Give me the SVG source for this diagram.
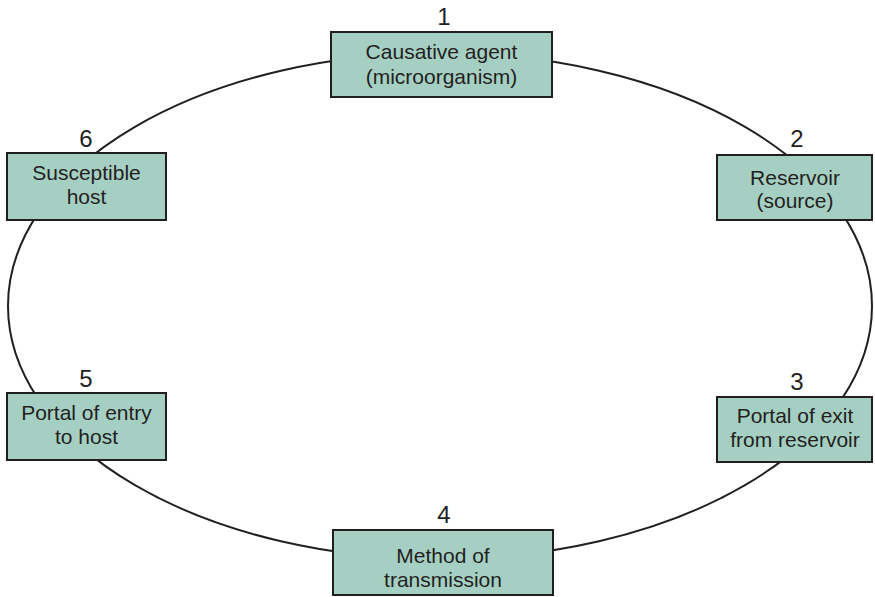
<svg xmlns="http://www.w3.org/2000/svg" width="875" height="597" viewBox="0 0 875 597">
<style>
.box{fill:#a6cfc4;stroke:#231f20;stroke-width:2}
.lbl{font-family:"Liberation Sans",Arial,sans-serif;font-size:21px;fill:#231f20;text-anchor:middle}
.num{font-family:"Liberation Sans",Arial,sans-serif;font-size:24px;fill:#231f20;text-anchor:middle}
.ring{fill:none;stroke:#231f20;stroke-width:2}
</style>
<rect width="875" height="597" fill="#ffffff"/>
<g id="connectors">
<ellipse class="ring" cx="440" cy="306" rx="432" ry="253"/>
</g>
<g id="node1">
<rect class="box" x="331" y="32" width="221" height="65"/>
<text class="num" x="444" y="25">1</text>
<text class="lbl" x="441.5" y="59">Causative agent</text>
<text class="lbl" x="441.5" y="84">(microorganism)</text>
</g>
<g id="node2">
<rect class="box" x="717" y="155" width="155" height="65"/>
<text class="num" x="797" y="147">2</text>
<text class="lbl" x="795" y="185">Reservoir</text>
<text class="lbl" x="795" y="208">(source)</text>
</g>
<g id="node3">
<rect class="box" x="717" y="397" width="155" height="65"/>
<text class="num" x="797" y="390">3</text>
<text class="lbl" x="795" y="423">Portal of exit</text>
<text class="lbl" x="795" y="447">from reservoir</text>
</g>
<g id="node4">
<rect class="box" x="333" y="530" width="220" height="65"/>
<text class="num" x="444" y="523">4</text>
<text class="lbl" x="443" y="563">Method of</text>
<text class="lbl" x="443" y="587">transmission</text>
</g>
<g id="node5">
<rect class="box" x="7" y="393" width="159" height="67"/>
<text class="num" x="86" y="387">5</text>
<text class="lbl" x="86.5" y="420">Portal of entry</text>
<text class="lbl" x="86.5" y="444">to host</text>
</g>
<g id="node6">
<rect class="box" x="7" y="153" width="159" height="67"/>
<text class="num" x="86" y="147">6</text>
<text class="lbl" x="86.5" y="180">Susceptible</text>
<text class="lbl" x="86.5" y="204">host</text>
</g>
</svg>
